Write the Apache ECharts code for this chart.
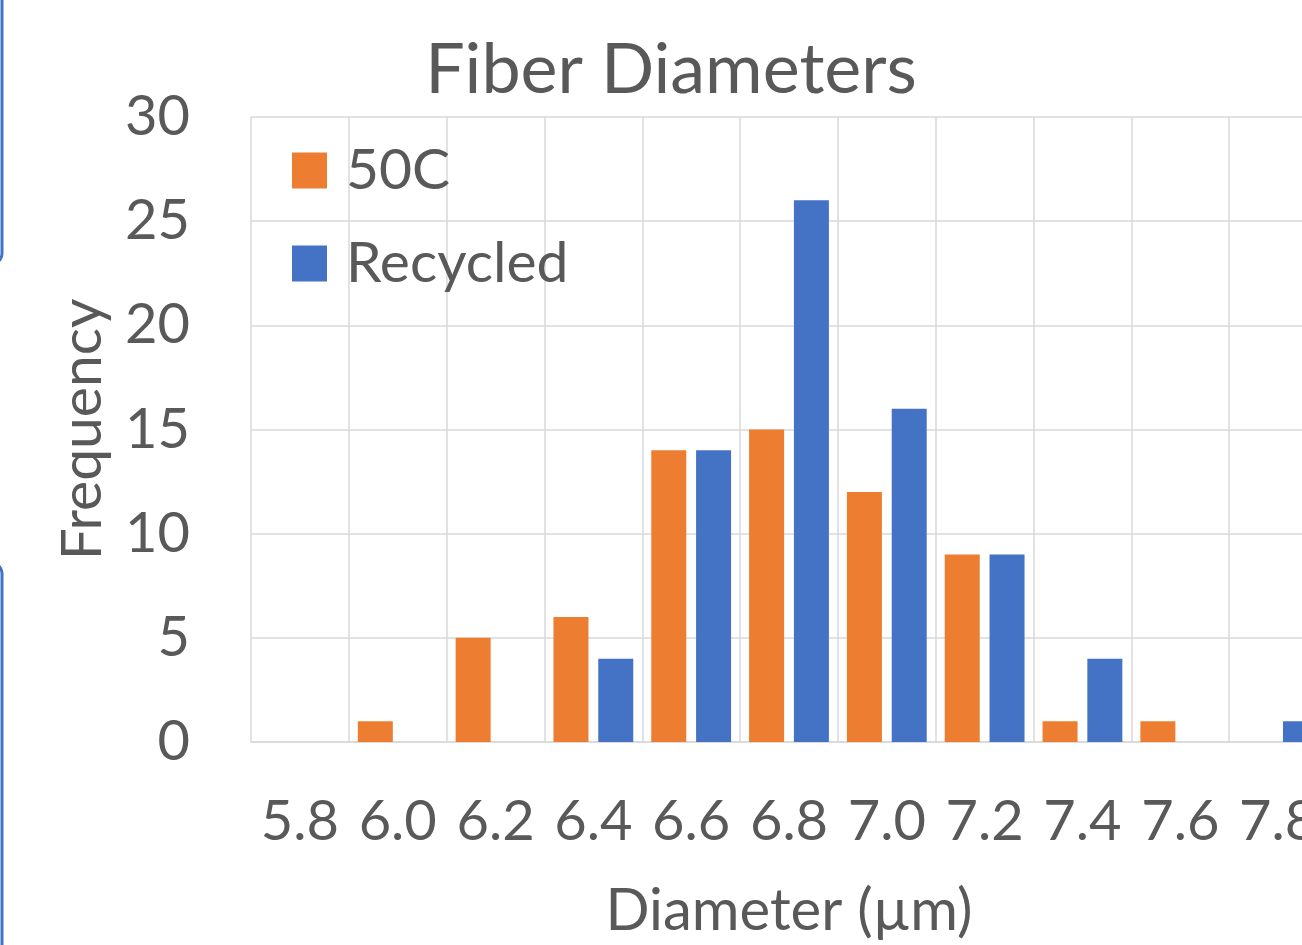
<!DOCTYPE html>
<html>
<head>
<meta charset="utf-8">
<title>Fiber Diameters</title>
<script src="https://cdn.jsdelivr.net/npm/echarts@6/dist/echarts.min.js"></script>
<style>
  html, body { margin: 0; padding: 0; background: #fff; overflow: hidden; }
  #chart { width: 1330px; height: 945px; }
</style>
</head>
<body>
<div id="chart"></div>
<script>
// Diameter bins (µm)
const diameters = ['5.8', '6.0', '6.2', '6.4', '6.6', '6.8', '7.0', '7.2', '7.4', '7.6', '7.8'];
// Counts per bin
const freq50C     = [0, 1, 5, 6, 14, 15, 12, 9, 1, 1, 0];
const freqRecycled = [0, 0, 0, 4, 14, 26, 16, 9, 4, 0, 1];

const FONT = 'Lato';
const TEXT = '#595959';
const GRID = '#D9D9D9';

const chart = echarts.init(document.getElementById('chart'), null, { renderer: 'canvas' });

chart.setOption({
  animation: false,
  backgroundColor: '#ffffff',
  color: ['#ED7D31', '#4472C4'],
  title: {
    text: 'Fiber Diameters',
    left: 666,
    textAlign: 'center',
    top: 30,
    textStyle: { fontFamily: FONT, fontSize: 70, fontWeight: 'normal', color: TEXT }
  },
  legend: {
    orient: 'vertical',
    left: 287,
    top: 137,
    icon: 'rect',
    itemWidth: 35,
    itemHeight: 36,
    itemGap: 36,
    textStyle: { fontFamily: FONT, fontSize: 57, color: TEXT, padding: [0, 0, 0, 14] },
    data: ['50C', 'Recycled']
  },
  grid: { left: 251, right: 3, top: 117, bottom: 203, containLabel: false, outerBoundsMode: 'none' },
  xAxis: {
    type: 'category',
    data: diameters,
    name: 'Diameter (µm)',
    nameLocation: 'middle',
    nameGap: 140,
    nameTextStyle: { fontFamily: FONT, fontSize: 58, color: TEXT },
    axisLine: { show: true, lineStyle: { color: GRID, width: 1.5 } },
    axisTick: { show: false },
    axisLabel: { fontFamily: FONT, fontSize: 56, color: TEXT, margin: 52, interval: 0, hideOverlap: false },
    splitLine: { show: true, interval: 0, lineStyle: { color: GRID, width: 1.5 } }
  },
  yAxis: {
    type: 'value',
    min: 0,
    max: 30,
    interval: 5,
    name: 'Frequency',
    nameLocation: 'middle',
    nameRotate: 90,
    nameGap: 140,
    nameTextStyle: { fontFamily: FONT, fontSize: 57, color: TEXT },
    axisLine: { show: false },
    axisTick: { show: false },
    axisLabel: { fontFamily: FONT, fontSize: 56, color: TEXT, margin: 61 },
    splitLine: { show: true, lineStyle: { color: GRID, width: 1.5 } }
  },
  series: [
    { name: '50C', type: 'bar', data: freq50C, barWidth: 35, barGap: '28%' },
    { name: 'Recycled', type: 'bar', data: freqRecycled, barWidth: 35, barGap: '28%' }
  ],
  graphic: [
    // Outlines of neighbouring shapes at the left edge
    { type: 'rect', shape: { x: -30, y: -20, width: 32, height: 285, r: 12 },
      style: { fill: 'none', stroke: '#4472C4', lineWidth: 3 }, silent: true },
    { type: 'rect', shape: { x: -30, y: 562, width: 32, height: 420, r: 12 },
      style: { fill: 'none', stroke: '#4472C4', lineWidth: 3 }, silent: true }
  ]
});
</script>
</body>
</html>
